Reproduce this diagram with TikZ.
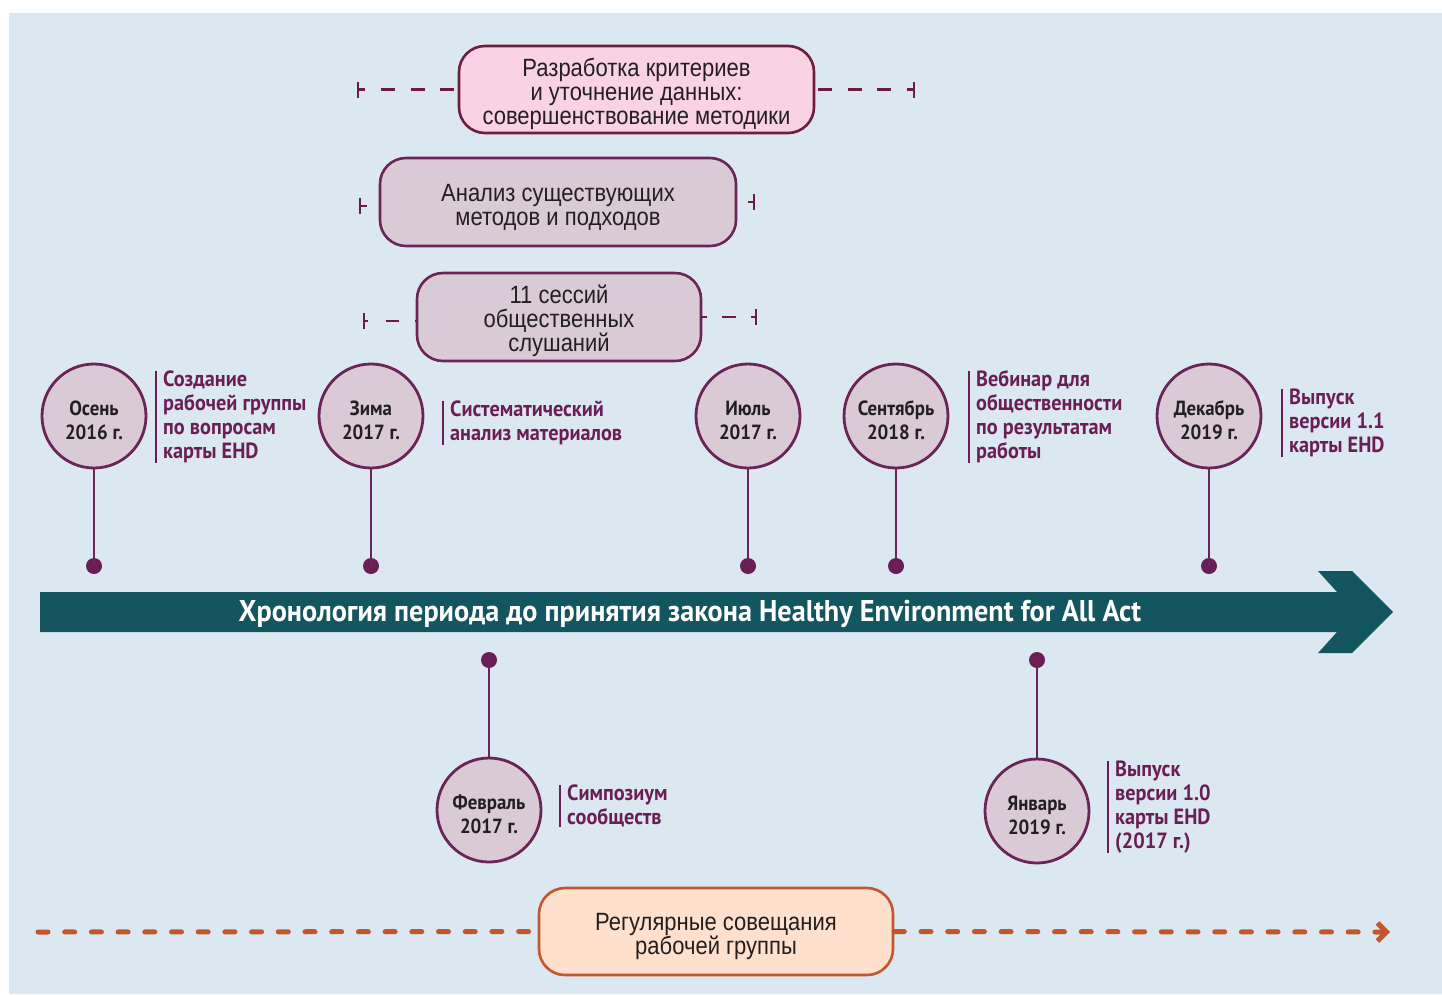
\documentclass[tikz,border=0pt]{standalone}
\usepackage{fontspec}
\setmainfont{Liberation Sans}
\newfontfamily\boxfont{Liberation Sans}[FakeStretch=0.88]
\newfontfamily\condfont{PT Sans}[FakeStretch=0.92]
\newfontfamily\titlefont{PT Sans}[FakeStretch=0.94]
\usetikzlibrary{arrows.meta}
\definecolor{bg}{HTML}{DCE8F1}
\definecolor{pinkfill}{HTML}{F9D2E3}
\definecolor{maroon}{HTML}{6F1D3F}
\definecolor{mauvefill}{HTML}{DACAD6}
\definecolor{purp}{HTML}{6B2458}
\definecolor{labpurple}{HTML}{6A1E55}
\definecolor{tealc}{HTML}{14565F}
\definecolor{orangec}{HTML}{C4562B}
\definecolor{peach}{HTML}{FFE0CC}
\definecolor{textdark}{HTML}{231F20}
\newcommand\lowstrut{\rule{0pt}{27pt}}
\newcommand\circstrut{\rule{0pt}{23pt}}
\tikzset{
  phase/.style={draw=purp, fill=mauvefill, line width=2.6pt, rounded corners=26pt,
    align=center, inner sep=0pt, text=textdark,
    font=\boxfont\fontsize{25}{24}\selectfont},
  datecirc/.style={circle, draw=purp, fill=mauvefill, line width=2.8pt,
    minimum size=104pt, inner sep=0pt, align=center, text=textdark,
    font=\condfont\bfseries\fontsize{20.5}{24}\selectfont},
  dotc/.style={circle, fill=labpurple, minimum size=16pt, inner sep=0pt},
  stem/.style={draw=purp, line width=2.4pt},
  lab/.style={anchor=west, align=left, inner xsep=7pt, inner ysep=0pt, text=labpurple,
    font=\condfont\bfseries\fontsize{22}{24}\selectfont},
  labbar/.style={draw=labpurple, line width=1.3pt},
  tickline/.style={draw=maroon, line width=2.2pt, {Bar[width=16pt,line width=2.2pt]}-},
  odash/.style={draw=orangec, line width=5pt, line cap=round, dash pattern=on 10pt off 16.7pt},
}
\begin{document}
\begin{tikzpicture}[x=1pt,y=-1pt]
\useasboundingbox (0,0) rectangle (1442,994);
\fill[bg] (9,13) rectangle (1442,994);

% phase boxes
\node[phase, draw=maroon, fill=pinkfill, minimum width=355pt, minimum height=87pt] (b1) at (636.5,89.5)
  {\lowstrut Разработка критериев\\и уточнение данных:\\совершенствование методики};
\node[phase, minimum width=356pt, minimum height=88pt] (b2) at (558,202)
  {\lowstrut Анализ существующих\\методов и подходов};
\node[phase, minimum width=284pt, minimum height=88pt] (b3) at (559,317)
  {\lowstrut 11 сессий\\общественных\\слушаний};

\coordinate (t1l) at (357,89.5);
\coordinate (t1r) at (915,89.5);
\coordinate (t2l) at (359,206);
\coordinate (t2r) at (755,202);
\coordinate (t3l) at (363,321);
\coordinate (t3r) at (757,317);

\draw[tickline, dash pattern=on 6pt off 16pt on 14pt off 16pt on 14pt off 15pt on 14pt off 20pt] (t1l) -- (b1.west |- t1l);
\draw[tickline, dash pattern=on 6pt off 16pt on 14pt off 15pt on 14pt off 16pt on 14pt off 20pt] (t1r) -- (b1.east |- t1r);
\draw[tickline, dash pattern=on 6pt off 40pt] (t2l) -- (b2.west |- t2l);
\draw[tickline, dash pattern=on 5pt off 40pt] (t2r) -- (b2.east |- t2r);
\draw[tickline, dash pattern=on 3pt off 18pt on 13pt off 16pt on 10pt off 10pt] (t3l) -- (b3.west |- t3l);
\draw[tickline, dash pattern=on 4pt off 15pt on 14pt off 15pt on 10pt off 10pt] (t3r) -- (b3.east |- t3r);

% main arrow
\fill[tealc] (40,592) -- (1337,592) -- (1318,571) -- (1352,571) -- (1393,612)
  -- (1352,653) -- (1318,653) -- (1337,632) -- (40,632) -- cycle;
\node[text=white, font=\titlefont\bfseries\fontsize{30}{32}\selectfont, inner sep=0pt] (title) at (690,614)
  {Хронология периода до принятия закона Healthy Environment for All Act};

% dates above
\node[datecirc] (c1) at (94,416) {\circstrut Осень\\2016 г.};
\node[datecirc] (c2) at (371,416) {\circstrut Зима\\2017 г.};
\node[datecirc] (c3) at (748,416) {\circstrut Июль\\2017 г.};
\node[datecirc] (c4) at (896,416) {\circstrut Сентябрь\\2018 г.};
\node[datecirc] (c5) at (1209,416) {\circstrut Декабрь\\2019 г.};
\node[dotc] (d1) at (94,566) {};
\node[dotc] (d2) at (371,566) {};
\node[dotc] (d3) at (748,566) {};
\node[dotc] (d4) at (896,566) {};
\node[dotc] (d5) at (1209,566) {};
\foreach \i in {1,...,5} \draw[stem] (c\i.south) -- (d\i.center);

% dates below
\node[datecirc] (c6) at (489,810) {\circstrut Февраль\\2017 г.};
\node[datecirc] (c7) at (1037,811) {\circstrut Январь\\2019 г.};
\node[dotc] (d6) at (489,660) {};
\node[dotc] (d7) at (1037,660) {};
\draw[stem] (c6.north) -- (d6.center);
\draw[stem] (c7.north) -- (d7.center);

% labels
\node[lab] (l1) at (156,417) {Создание\\рабочей группы\\по вопросам\\карты EHD};
\node[lab] (l2) at (443,423) {Систематический\\анализ материалов};
\node[lab] (l3) at (969,417) {Вебинар для\\общественности\\по результатам\\работы};
\node[lab] (l4) at (1282,423) {Выпуск\\версии 1.1\\карты EHD};
\node[lab] (l5) at (560,806) {Симпозиум\\сообществ};
\node[lab] (l6) at (1108,807) {Выпуск\\версии 1.0\\карты EHD\\(2017 г.)};
\foreach \i in {1,...,6} \draw[labbar] (l\i.north west) -- (l\i.south west);

% regular meetings
\node[phase, draw=orangec, fill=peach, minimum width=354pt, minimum height=87pt] (b4) at (716,931.5)
  {\lowstrut Регулярные совещания\\рабочей группы};
\coordinate (o0) at (38,932);
\coordinate (o1) at (1390,932);
\draw[odash] (o0) -- (b4.west);
\draw[odash, -{Straight Barb[length=9pt,width=18pt,line width=5pt]}] (b4.east) -- (o1);
\end{tikzpicture}
\end{document}
